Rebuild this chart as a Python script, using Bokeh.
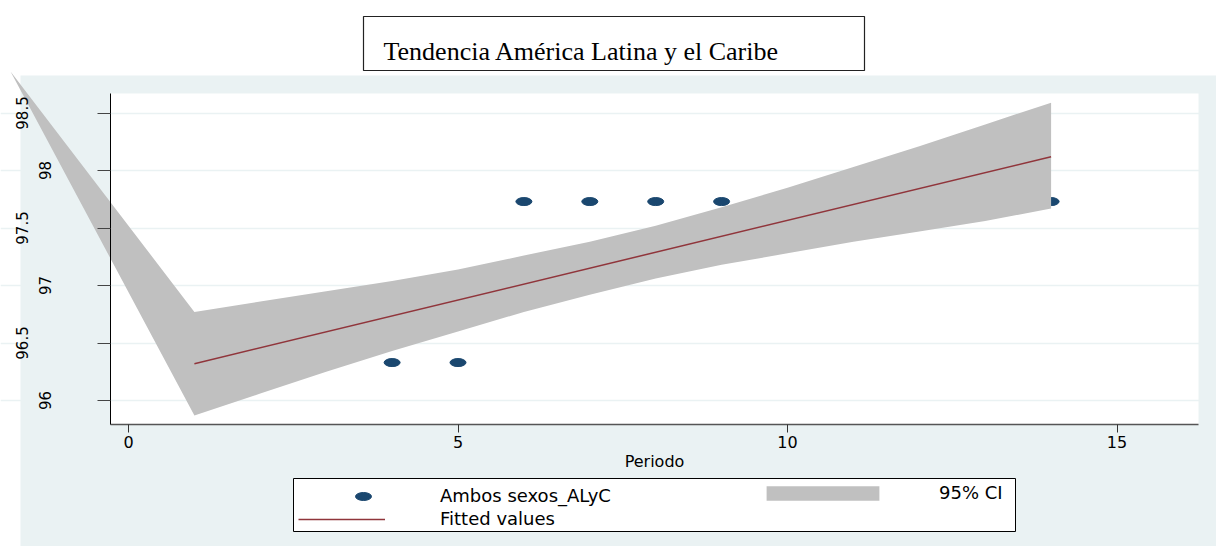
from bokeh.plotting import figure
from bokeh.models import (Range1d, LinearAxis, FixedTicker, Grid, BoxAnnotation, Label,
                          Legend, LegendItem, ColumnDataSource)
from bokeh.embed import file_html
from bokeh.resources import INLINE

# ---------------- data ----------------
periodo = [4, 5, 6, 7, 8, 9, 14]
ambos_sexos = [96.33, 96.33, 97.73, 97.73, 97.73, 97.73, 97.73]

fit_periodo = [1, 14]
fit_values = [96.32, 98.12]

ci_periodo = [-1.79, 1, 2, 3, 4, 5, 6, 7, 8, 9, 10, 11, 12, 13, 14]
ci_upper = [98.86, 96.77, 96.86, 96.95, 97.04, 97.14, 97.26, 97.38, 97.52, 97.68,
            97.85, 98.03, 98.21, 98.40, 98.59]
ci_lower = [98.86, 95.87, 96.06, 96.25, 96.43, 96.60, 96.77, 96.92, 97.06, 97.18,
            97.28, 97.38, 97.47, 97.56, 97.67]

x_ticks = [0, 5, 10, 15]
y_ticks_int = [96, 97, 98]
y_ticks_half = [96.5, 97.5, 98.5]

title_text = "Tendencia América Latina y el  Caribe"
x_label = "Periodo"
legend_labels = ["Ambos sexos_ALyC", "95% CI", "Fitted values"]

# ---------------- layout (page pixels) ----------------
W, H = 1216, 546
OFF = 0
X_ZERO_PX, X_UNIT_PX = 128.0, 65.9
Y_BASE, Y_BASE_PX, Y_UNIT_PX = 96.0, 400.0, 115.0


def px2x(px):
    return (px - X_ZERO_PX) / X_UNIT_PX


def px2y(py):
    return Y_BASE + (Y_BASE_PX - py) / Y_UNIT_PX


BG = "#eaf2f3"
NAVY = "#1a476f"
MAROON = "#90353b"
CI_GRAY = "#c0c0c0"
SANS = "DejaVu Sans"

p = figure(width=W, height=H, output_backend="svg", toolbar_location=None,
           x_range=Range1d(px2x(OFF), px2x(OFF + W)),
           y_range=Range1d(px2y(OFF + H), px2y(OFF)),
           x_axis_type=None, y_axis_type=None, min_border=0,
           outline_line_color=None, background_fill_color="white",
           border_fill_color="white")

# graph region background and plot region
p.add_layout(BoxAnnotation(left=px2x(20), right=px2x(1240), top=px2y(75), bottom=px2y(600),
                           fill_color=BG, fill_alpha=1, line_color=None, level="image"))
p.add_layout(BoxAnnotation(left=px2x(110), right=px2x(1198), top=px2y(93), bottom=px2y(424),
                           fill_color="white", fill_alpha=1, line_color=None, level="image"))

# horizontal grid lines
p.add_layout(Grid(dimension=1, ticker=FixedTicker(ticks=y_ticks_int + y_ticks_half),
                  grid_line_color=BG, grid_line_width=1.5))

# marks
pts_src = ColumnDataSource(dict(x=periodo, y=ambos_sexos))
r_pts = p.ellipse("x", "y", source=pts_src, width=16, height=8,
                  width_units="screen", height_units="screen",
                  fill_color=NAVY, line_color=NAVY)

band_xs = ci_periodo + ci_periodo[::-1]
band_ys = ci_upper + ci_lower[::-1]
r_ci = p.patch(band_xs, band_ys, fill_color=CI_GRAY, line_color=None)

r_fit = p.line(fit_periodo, fit_values, line_color=MAROON, line_width=1.5)

# axes
xaxis = LinearAxis(fixed_location=px2y(424), bounds=(px2x(110), px2x(1198)),
                   ticker=FixedTicker(ticks=x_ticks), axis_label=x_label)
xaxis.axis_line_color = "#555555"
xaxis.axis_line_width = 1.5
xaxis.major_tick_out = 8
xaxis.major_tick_in = 0
xaxis.major_tick_line_color = "#333333"
xaxis.minor_tick_line_color = None
xaxis.major_label_text_font = SANS
xaxis.major_label_text_font_size = "16px"
xaxis.major_label_text_color = "black"
xaxis.major_label_standoff = 3
xaxis.axis_label_text_font = SANS
xaxis.axis_label_text_font_size = "16px"
xaxis.axis_label_text_font_style = "normal"
xaxis.axis_label_text_color = "black"
xaxis.axis_label_standoff = 1
p.add_layout(xaxis, "below")

for ticks, standoff, line_col in [(y_ticks_int, 47, "black"), (y_ticks_half, 70, None)]:
    ya = LinearAxis(fixed_location=px2x(110), bounds=(px2y(424), px2y(93)),
                    ticker=FixedTicker(ticks=ticks))
    ya.axis_line_color = line_col
    ya.axis_line_width = 1
    ya.major_tick_out = 13
    ya.major_tick_in = 0
    ya.major_tick_line_color = "#444444"
    ya.minor_tick_line_color = None
    ya.major_label_orientation = "vertical"
    ya.major_label_standoff = standoff
    ya.major_label_text_font = SANS
    ya.major_label_text_font_size = "15px"
    ya.major_label_text_color = "black"
    p.add_layout(ya, "left")

# legend frame
p.add_layout(BoxAnnotation(left=px2x(293), right=px2x(1015), top=px2y(478), bottom=px2y(531),
                           fill_color="white", fill_alpha=1, line_color="black",
                           line_width=1, line_alpha=1))


def add_legend(label, renderer, left_px, bottom_px, glyph_w, glyph_h, standoff):
    lg = Legend(items=[LegendItem(label=label, renderers=[renderer])],
                location=(left_px, H - bottom_px), orientation="vertical")
    lg.border_line_color = None
    lg.background_fill_alpha = 0
    lg.padding = 5
    lg.margin = 0
    lg.spacing = 0
    lg.glyph_width = glyph_w
    lg.glyph_height = glyph_h
    lg.label_height = glyph_h
    lg.label_standoff = standoff
    lg.label_text_font = SANS
    lg.label_text_font_size = "18px"
    lg.label_text_color = "black"
    p.add_layout(lg)


# key rows centred at y=494 and y=518 (page px)
add_legend(legend_labels[0], r_pts, 298, 506, 130, 20, 12)
add_legend(legend_labels[2], r_fit, 298, 529, 87, 20, 55)
add_legend(legend_labels[1], r_ci, 752, 503, 141, 18, 46)

# title box
p.add_layout(BoxAnnotation(left=px2x(363), right=px2x(864), top=px2y(16), bottom=px2y(70),
                           fill_color="white", fill_alpha=1, line_color="#222222",
                           line_width=1.2, line_alpha=1))
p.add_layout(Label(x=px2x(383), y=px2y(51), text=title_text, text_font="Liberation Serif",
                   text_font_size="26px", text_align="left", text_baseline="alphabetic",
                   text_color="black"))

open("out.html", "w").write(file_html(p, INLINE))
